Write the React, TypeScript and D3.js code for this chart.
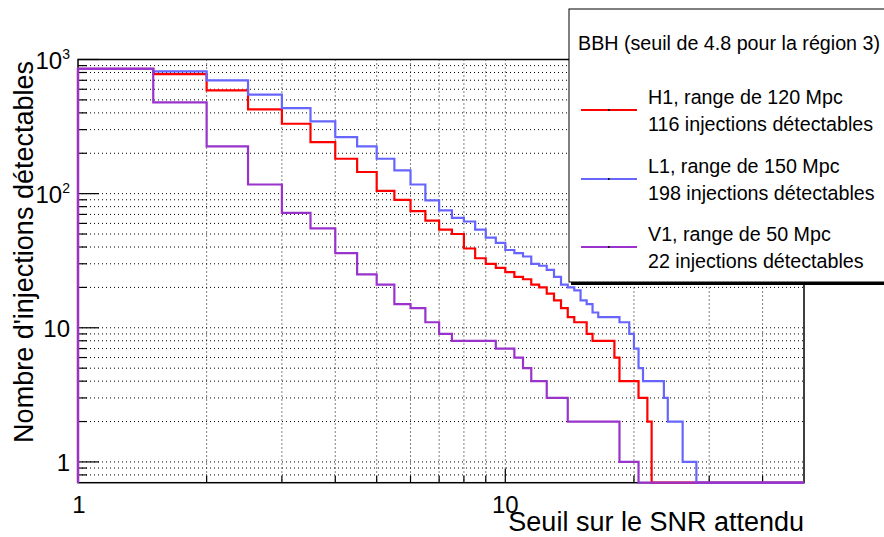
import React, { useEffect, useRef } from 'react';
import * as d3 from 'd3';

// histogram binning: bins of 0.5 in SNR starting at 1
const binStart = 1;
const binWidth = 0.5;

// cumulative counts per bin, bins after the last value are empty
const h1Counts = [850, 778, 589, 425, 332, 242, 182, 145, 105, 90, 74, 63, 54, 50, 39, 33, 30, 28, 26, 24,
  23, 21, 20, 18, 16, 14, 12, 11, 11, 9, 8, 8, 8, 8, 6, 4, 4, 4, 4, 3, 3, 2];
const l1Counts = [850, 815, 700, 547, 434, 346, 264, 225, 182, 149, 117, 89, 75, 66, 62, 54, 47, 43, 38, 36,
  34, 30, 29, 27, 24, 21, 20, 19, 16, 15, 13, 12, 12, 12, 12, 11, 11, 9, 7, 5, 4, 4, 4, 4, 4, 3, 2, 2, 2, 2,
  1, 1, 1, 1];
const v1Counts = [850, 479, 225, 117, 72, 55, 36, 25, 21, 15, 14, 11, 9, 8, 8, 8, 8, 7, 7, 6, 5, 4, 4, 3, 3, 3,
  2, 2, 2, 2, 2, 2, 2, 2, 2, 1, 1, 1, 1];

const seriesColors = ['#ff0000', '#6666ff', '#9933cc'];
const legendTitle = 'BBH (seuil de 4.8 pour la région 3)';
const legendLine1 = ['H1, range de 120 Mpc', 'L1, range de 150 Mpc', 'V1, range de 50 Mpc'];
const legendLine2 = ['116 injections détectables', '198 injections détectables', '22 injections détectables'];

const xTickLabels = [1, 10];
const yTickLabels = [
  { v: 1, base: '1', exp: '' },
  { v: 10, base: '10', exp: '' },
  { v: 100, base: '10', exp: '2' },
  { v: 1000, base: '10', exp: '3' },
];
const xTitle = 'Seuil sur le SNR attendu';
const yTitle = "Nombre d'injections détectables";

const FONT = "'Liberation Sans', Arial, Helvetica, sans-serif";

const App = () => {
  const svgRef = useRef<SVGSVGElement>(null);

  useEffect(() => {
    document.body.style.margin = '0';
    const width = 884;
    const height = 537;
    const f = { left: 78, right: 804, top: 59.5, bottom: 482.7 };

    const svg = d3.select(svgRef.current).attr('width', width).attr('height', height);
    svg.selectAll('*').remove();
    svg.append('rect').attr('width', width).attr('height', height).attr('fill', 'white');

    const x = d3.scaleLog().domain([1, 50]).range([f.left, f.right]);
    const y = d3.scaleLog().domain([0.7, 1000]).range([f.bottom, f.top]);

    // dotted grid
    const grid = svg.append('g').attr('stroke', '#000').attr('stroke-width', 1).attr('stroke-dasharray', '1 3');
    x.ticks().filter(v => v > 1 && v < 50).forEach(v => {
      grid.append('line').attr('x1', x(v)).attr('x2', x(v)).attr('y1', f.top).attr('y2', f.bottom);
    });
    y.ticks().filter(v => v > 0.71 && v < 1000).forEach(v => {
      grid.append('line').attr('x1', f.left).attr('x2', f.right).attr('y1', y(v)).attr('y2', y(v));
    });

    // frame
    svg.append('rect').attr('x', f.left).attr('y', f.top).attr('width', f.right - f.left)
      .attr('height', f.bottom - f.top).attr('fill', 'none').attr('stroke', '#000').attr('stroke-width', 1.5);

    // ticks
    const ticks = svg.append('g').attr('stroke', '#000').attr('stroke-width', 1.2);
    y.ticks().filter(v => v > 0.71 && v <= 1000).forEach(v => {
      const major = Math.abs(Math.log10(v) - Math.round(Math.log10(v))) < 1e-6;
      ticks.append('line').attr('x1', f.left).attr('x2', f.left + (major ? 21 : 9))
        .attr('y1', y(v)).attr('y2', y(v));
    });
    x.ticks().filter(v => v < 50).forEach(v => {
      const major = Math.abs(Math.log10(v) - Math.round(Math.log10(v))) < 1e-6;
      ticks.append('line').attr('x1', x(v)).attr('x2', x(v))
        .attr('y1', f.bottom).attr('y2', f.bottom - (major ? 14 : 7));
    });

    // histograms
    const line = d3.line<[number, number]>().x(d => d[0]).y(d => d[1]);
    [h1Counts, l1Counts, v1Counts].forEach((counts, si) => {
      const pts: [number, number][] = [[x(binStart), f.bottom]];
      counts.forEach((c, i) => {
        const lo = binStart + i * binWidth;
        const hi = lo + binWidth;
        pts.push([x(lo), y(c)], [x(hi), y(c)]);
      });
      const end = binStart + counts.length * binWidth;
      pts.push([x(end), f.bottom], [x(50), f.bottom]);
      svg.append('path').attr('d', line(pts)).attr('fill', 'none')
        .attr('stroke', seriesColors[si]).attr('stroke-width', 2.2).attr('stroke-linejoin', 'miter');
    });

    // tick labels
    yTickLabels.forEach(t => {
      const txt = svg.append('text').attr('x', 70).attr('y', y(t.v) + 9).attr('text-anchor', 'end')
        .attr('font-family', FONT).attr('font-size', 24).attr('fill', '#000');
      txt.append('tspan').text(t.base);
      if (t.exp) txt.append('tspan').attr('font-size', 14).attr('dy', -10).text(t.exp);
    });
    xTickLabels.forEach(v => {
      svg.append('text').attr('x', x(v) + (v === 1 ? 1 : 0)).attr('y', 513).attr('text-anchor', 'middle')
        .attr('font-family', FONT).attr('font-size', 24).attr('fill', '#000').text(String(v));
    });

    // axis titles
    svg.append('text').attr('x', f.right).attr('y', 531).attr('text-anchor', 'end')
      .attr('font-family', FONT).attr('font-size', 27).attr('fill', '#000').text(xTitle);
    svg.append('text').attr('transform', 'translate(33,61) rotate(-90)').attr('text-anchor', 'end')
      .attr('font-family', FONT).attr('font-size', 27).attr('fill', '#000').text(yTitle);

    // legend
    const lg = svg.append('g');
    lg.append('rect').attr('x', 571).attr('y', 11).attr('width', 330).attr('height', 274).attr('fill', '#000');
    lg.append('rect').attr('x', 569).attr('y', 9).attr('width', 330).attr('height', 273)
      .attr('fill', '#fff').attr('stroke', '#000').attr('stroke-width', 1);
    lg.append('text').attr('x', 578).attr('y', 50).attr('font-family', FONT).attr('font-size', 19.7)
      .attr('fill', '#000').text(legendTitle);
    const rowY = [110, 179, 247];
    legendLine1.forEach((l, i) => {
      const cy = rowY[i];
      lg.append('line').attr('x1', 581).attr('x2', 637).attr('y1', cy).attr('y2', cy)
        .attr('stroke', seriesColors[i]).attr('stroke-width', 2.2);
      lg.append('rect').attr('x', 608).attr('y', cy - 1).attr('width', 1.5).attr('height', 2).attr('fill', '#000');
      lg.append('text').attr('x', 648).attr('y', cy - 13 + 7).attr('font-family', FONT).attr('font-size', 19.7)
        .attr('fill', '#000').text(l);
      lg.append('text').attr('x', 648).attr('y', cy + 14 + 7).attr('font-family', FONT).attr('font-size', 19.7)
        .attr('fill', '#000').text(legendLine2[i]);
    });
  }, []);

  return <svg ref={svgRef} style={{ display: 'block' }}></svg>;
};

export default App;
